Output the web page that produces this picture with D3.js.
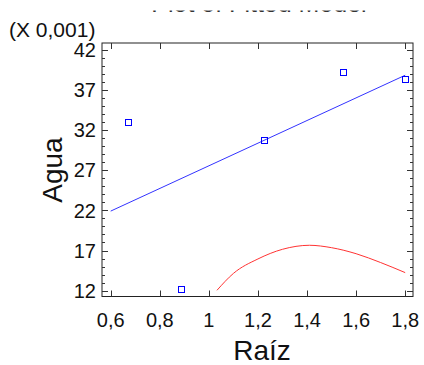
<!DOCTYPE html>
<html><head><meta charset="utf-8">
<script src="https://cdn.jsdelivr.net/npm/d3@7"></script>
<style>body{margin:0;background:#fff;}svg{display:block;}text{font-family:"Liberation Sans",Arial,sans-serif;}</style>
</head><body>
<script>
// Observed points (Raíz, Agua x1000)
const pointX = [0.67, 0.886, 1.224, 1.546, 1.80];
const pointY = [33.0, 12.25, 30.7, 39.2, 38.3];
// Fitted line endpoints
const fitX = [0.6, 1.8];
const fitY = [21.9, 38.8];
// Red curve
const curveX = [1.033, 1.1, 1.2, 1.3, 1.41, 1.5, 1.6, 1.7, 1.8];
const curveY = [12.05, 14.15, 15.95, 17.15, 17.65, 17.35, 16.6, 15.5, 14.25];
const xTicks = [0.6, 0.8, 1.0, 1.2, 1.4, 1.6, 1.8];
const yTicks = [12, 17, 22, 27, 32, 37, 42];
const yMinor = d3.range(12, 43, 1);

const W = 424, H = 365;
const box = {l: 102, r: 413, t: 43, b: 296.5};
const x = d3.scaleLinear().domain([0.6, 1.8]).range([110.7, 405.2]);
const y = d3.scaleLinear().domain([12, 42]).range([290.7, 49.5]);
const fmt = d => String(d).replace('.', ',');

const svg = d3.select('body').append('svg').attr('width', W).attr('height', H);

// Title (mostly cut off at top, as in the reference)
svg.append('text').attr('x', 259).attr('y', 12).attr('text-anchor', 'middle')
  .attr('font-size', 25).attr('fill', '#333').text('Plot of Fitted Model');
svg.append('rect').attr('x', 0).attr('y', 0).attr('width', W).attr('height', 10.5).attr('fill', '#fff');

// Box
svg.append('rect').attr('x', box.l).attr('y', box.t).attr('width', box.r - box.l).attr('height', box.b - box.t)
  .attr('fill', 'none').attr('stroke', '#222').attr('stroke-width', 1);

const tk = svg.append('g').attr('stroke', '#333').attr('stroke-width', 1);
// Y ticks (left & right), major and minor
yMinor.forEach(v => {
  const major = yTicks.includes(v);
  const len = major ? 6 : 3;
  const yy = Math.round(y(v)) + 0.5;
  tk.append('line').attr('x1', box.l).attr('x2', box.l + len).attr('y1', yy).attr('y2', yy);
  tk.append('line').attr('x1', box.r).attr('x2', box.r - len).attr('y1', yy).attr('y2', yy);
});
// X ticks (bottom & top)
xTicks.forEach(v => {
  const xx = Math.round(x(v)) + 0.5;
  tk.append('line').attr('x1', xx).attr('x2', xx).attr('y1', box.b).attr('y2', box.b - 6);
  tk.append('line').attr('x1', xx).attr('x2', xx).attr('y1', box.t).attr('y2', box.t + 6);
});

// Tick labels
svg.append('g').selectAll('text').data(yTicks).join('text')
  .attr('x', 96).attr('y', d => y(d)).attr('dy', '0.36em').attr('text-anchor', 'end')
  .attr('font-size', 20).attr('fill', '#111').text(d => d);
svg.append('g').selectAll('text').data(xTicks).join('text')
  .attr('x', d => x(d)).attr('y', 327).attr('text-anchor', 'middle')
  .attr('font-size', 20).attr('fill', '#111').text(d => fmt(d));

// Multiplier
svg.append('text').attr('x', 9).attr('y', 36.5).attr('font-size', 21).attr('fill', '#111').text('(X 0,001)');

// Axis titles
svg.append('text').attr('x', 262).attr('y', 360).attr('text-anchor', 'middle')
  .attr('font-size', 28).attr('fill', '#111').text('Raíz');
svg.append('text').attr('transform', 'translate(62,170) rotate(-90)').attr('text-anchor', 'middle')
  .attr('font-size', 28).attr('fill', '#111').text('Agua');

// Fitted line
const line = d3.line().x(d => x(d[0])).y(d => y(d[1]));
svg.append('path').datum(fitX.map((v, i) => [v, fitY[i]])).attr('d', line)
  .attr('fill', 'none').attr('stroke', '#3333ff').attr('stroke-width', 1);
// Red curve
svg.append('path').datum(curveX.map((v, i) => [v, curveY[i]])).attr('d', line.curve(d3.curveMonotoneX))
  .attr('fill', 'none').attr('stroke', '#ff3333').attr('stroke-width', 1);

// Points
svg.append('g').selectAll('rect').data(pointX.map((v, i) => [v, pointY[i]])).join('rect')
  .attr('x', d => Math.round(x(d[0])) - 3 + 0.5).attr('y', d => Math.round(y(d[1])) - 3 + 0.5)
  .attr('width', 6).attr('height', 6).attr('fill', 'none').attr('stroke', '#0000ff').attr('stroke-width', 1);
</script>
</body></html>
